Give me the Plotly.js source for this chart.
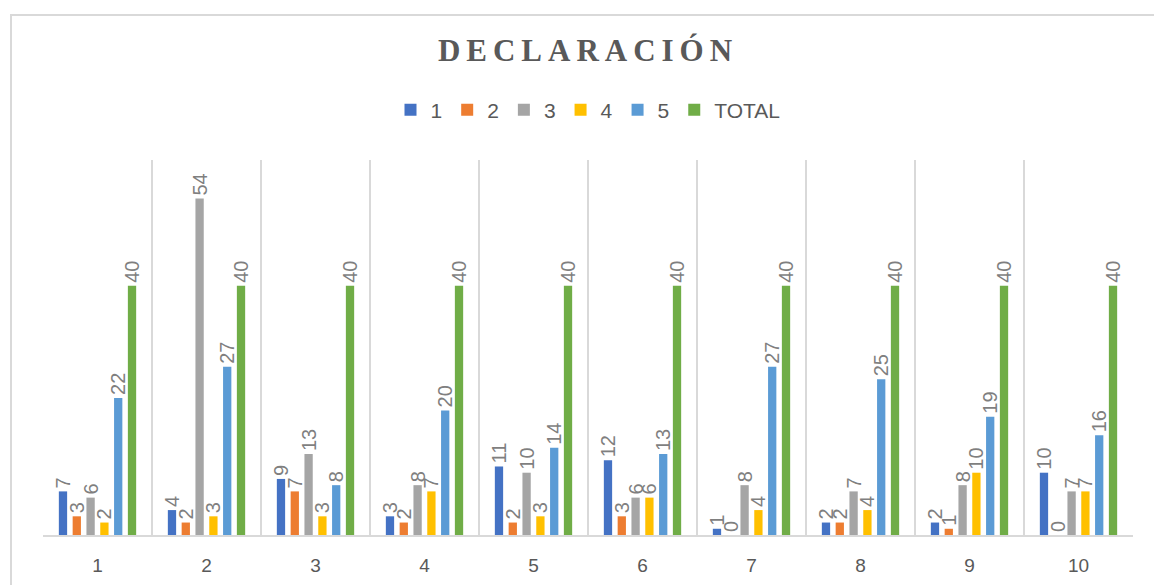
<!DOCTYPE html>
<html>
<head>
<meta charset="utf-8">
<script src="https://cdn.plot.ly/plotly-3.0.1.min.js"></script>
<style>
  html, body { margin: 0; padding: 0; background: #fff; overflow: hidden; }
  #chart { width: 1154px; height: 585px; position: absolute; left: 0; top: 0; }
  #frame { position: absolute; left: 10px; top: 14px; width: 1200px; height: 700px;
           border-left: 2px solid #d9d9d9; border-top: 2px solid #d9d9d9; pointer-events: none; }
</style>
</head>
<body>
<div id="chart"></div>
<div id="frame"></div>
<script>
const categories = ["1", "2", "3", "4", "5", "6", "7", "8", "9", "10"];
const seriesNames = ["1", "2", "3", "4", "5", "TOTAL"];
const s1 = [7, 4, 9, 3, 11, 12, 1, 2, 2, 10];
const s2 = [3, 2, 7, 2, 2, 3, 0, 2, 1, 0];
const s3 = [6, 54, 13, 8, 10, 6, 8, 7, 8, 7];
const s4 = [2, 3, 3, 7, 3, 6, 4, 4, 10, 7];
const s5 = [22, 27, 8, 20, 14, 13, 27, 25, 19, 16];
const sTotal = [40, 40, 40, 40, 40, 40, 40, 40, 40, 40];
const seriesValues = [s1, s2, s3, s4, s5, sTotal];
const colors = ["#4472C4", "#ED7D31", "#A5A5A5", "#FFC000", "#5B9BD5", "#70AD47"];

const traces = seriesValues.map((vals, i) => ({
  type: "bar",
  name: seriesNames[i],
  x: categories,
  y: vals,
  marker: { color: colors[i] },
  text: vals.map(String),
  textposition: "outside",
  textangle: -90,
  constraintext: "none",
  cliponaxis: false,
  textfont: { family: "Arial, Liberation Sans, sans-serif", size: 20, color: "#7f7f7f" },
  hoverinfo: "x+y+name"
}));

const layout = {
  width: 1154,
  height: 585,
  margin: { l: 43, r: 21, t: 160, b: 50 },
  paper_bgcolor: "#ffffff",
  plot_bgcolor: "#ffffff",
  title: {
    text: "<b>DECLARACIÓN</b>",
    font: { family: "Liberation Serif, Times New Roman, serif", size: 31, color: "#595959" },
    x: 0.5, xanchor: "center", xref: "paper",
    y: 1 - 50 / 585, yanchor: "middle", yref: "container"
  },
  showlegend: true,
  legend: {
    orientation: "h",
    x: 0.5, xanchor: "center", xref: "paper",
    y: 1 - 110 / 585, yref: "container", yanchor: "middle",
    font: { family: "Arial, Liberation Sans, sans-serif", size: 21, color: "#595959" },
    itemwidth: 30,
    traceorder: "normal"
  },
  barmode: "group",
  bargap: 0.24,
  bargroupgap: 0.4,
  xaxis: {
    type: "category",
    tickson: "boundaries",
    showgrid: true,
    gridcolor: "#d9d9d9",
    gridwidth: 2,
    showline: true,
    linecolor: "#d9d9d9",
    linewidth: 2,
    ticks: "",
    tickfont: { family: "Arial, Liberation Sans, sans-serif", size: 19, color: "#595959" },
    ticklabelstandoff: 12,
    fixedrange: true
  },
  yaxis: {
    range: [0, 60.2],
    showgrid: false,
    showticklabels: false,
    zeroline: false,
    showline: false,
    ticks: "",
    fixedrange: true
  }
};

Plotly.newPlot("chart", traces, layout, { displayModeBar: false, staticPlot: true }).then(() => {
  document.querySelectorAll(".gtitle").forEach(t => { t.style.letterSpacing = "6px"; });
});
</script>
</body>
</html>
